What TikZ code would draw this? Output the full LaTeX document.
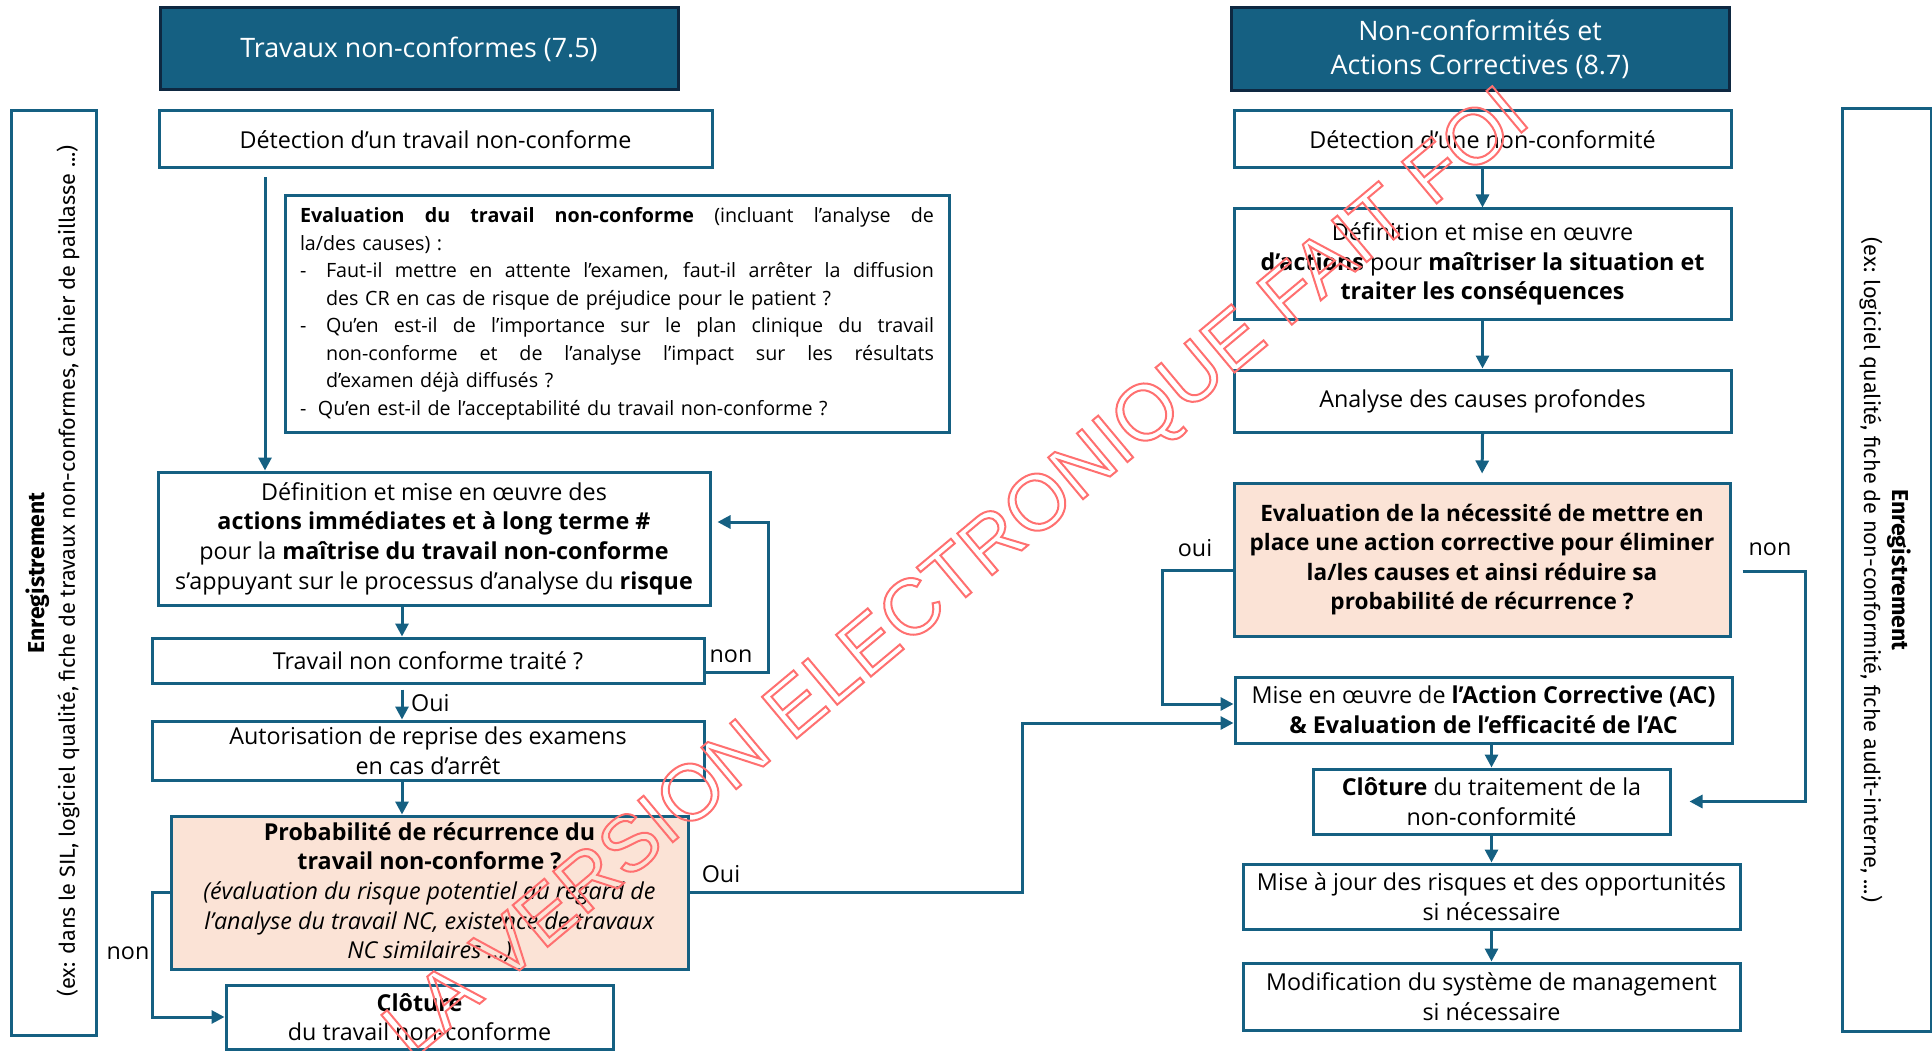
\documentclass[tikz,border=0pt]{standalone}
\usepackage{fontspec}
\setmainfont{Open Sans}
\newfontfamily\sidefont{Fira Sans}
\newfontfamily\wmfont{Liberation Sans}
\usetikzlibrary{arrows.meta}
\definecolor{acc}{HTML}{156082}
\definecolor{hdrline}{HTML}{0E2841}
\definecolor{peach}{HTML}{FBE3D6}
\definecolor{wmred}{HTML}{FF7070}
\newcommand\bodyfont{\fontsize{23.3}{29.6}\selectfont}
\newcommand\boldbody{\bfseries\fontsize{22.6}{29.6}\selectfont}
\newcommand\evalfont{\fontsize{19.7}{27.5}\selectfont}
\newcommand\hdrfont{\fontsize{26.8}{34.5}\selectfont}
\newcommand\sidesize{\sidefont\fontsize{21.7}{26}\selectfont}
\newcommand\sidebold{\sidefont\bfseries\fontsize{23}{26}\selectfont}
% a line of text spread to a given width (even interword gaps)
\newcommand\spreadline[2]{\makebox[#1][s]{\spaceskip=0.25em plus 1fil\relax #2}}
\begin{document}
\begin{tikzpicture}[x=1pt, y=-1pt,
  sz/.style 2 args={minimum width=#1pt, minimum height=#2pt},
  box/.style={draw=acc, line width=3pt, fill=white, inner sep=0pt, align=center, font=\bodyfont},
  hdr/.style={draw=hdrline, fill=acc, line width=3pt, text=white, align=center, inner sep=0pt, font=\hdrfont},
  arr/.style={draw=acc, line width=3pt, -{Triangle[length=13pt,width=13pt]}},
  lbl/.style={font=\bodyfont, inner sep=0pt},
  sidetxt/.style={font=\sidesize, inner sep=0pt}]
\useasboundingbox (0,0) rectangle (1932,1051);

% ---------- Travaux non-conformes (7.5) ----------
\node[hdr, sz={518}{82}] (h1) at (419,49) {Travaux non-conformes (7.5)};
\node[box, sz={553}{57}] (det1) at (435.5,139.5) {Détection d’un travail non-conforme};
\node[box, sz={664}{236}, align=left, text width=634pt, font=\evalfont] (eval1) at (617,314) {%
\spreadline{634pt}{\textbf{Evaluation du travail non-conforme} (incluant l’analyse de}\\
la/des causes) :\\
\makebox[26pt][l]{-}\spreadline{608pt}{Faut-il mettre en attente l’examen, faut-il arrêter la diffusion}\\
\hspace*{26pt}des CR en cas de risque de préjudice pour le patient ?\\
\makebox[26pt][l]{-}\spreadline{608pt}{Qu’en est-il de l’importance sur le plan clinique du travail}\\
\hspace*{26pt}\spreadline{608pt}{non-conforme et de l’analyse l’impact sur les résultats}\\
\hspace*{26pt}d’examen déjà diffusés ?\\
\makebox[18pt][l]{-}Qu’en est-il de l’acceptabilité du travail non-conforme ?};
\node[box, sz={552}{133}] (def1) at (434,538.5) {Définition et mise en œuvre des\\
\textbf{actions immédiates et à long terme \#}\\
pour la \textbf{maîtrise du travail non-conforme}\\
s’appuyant sur le processus d’analyse du \textbf{risque}};
\node[box, sz={552}{45}] (traite) at (428,660.5) {Travail non conforme traité ?};
\node[box, sz={552}{59}] (autor) at (428,750.5) {Autorisation de reprise des examens\\en cas d’arrêt};
\node[box, fill=peach, sz={517}{153}] (prob) at (429.5,892.5) {\textbf{Probabilité de récurrence du}\\
\textbf{travail non-conforme ?}\\
\textit{(évaluation du risque potentiel au regard de}\\
\textit{l’analyse du travail NC, existence de travaux}\\
\textit{NC similaires …)}};
\node[box, sz={387}{64}] (clot1) at (419.5,1017) {\textbf{Clôture}\\du travail non-conforme};

% ---------- Non-conformités et Actions Correctives (8.7) ----------
\node[hdr, sz={498}{83}] (h2) at (1480,49.5) {Non-conformités et\\Actions Correctives (8.7)};
\node[box, sz={497}{57}] (det2) at (1482.5,139.5) {Détection d’une non-conformité};
\node[box, sz={497}{110}] (def2) at (1482.5,264) {Définition et mise en œuvre\\
\textbf{d’actions} pour \textbf{maîtriser la situation et}\\
\textbf{traiter les conséquences}};
\node[box, sz={497}{62}] (anal) at (1482.5,401) {Analyse des causes profondes};
\node[box, fill=peach, sz={496}{153}, font=\boldbody] (eval2) at (1482,559.5) {Evaluation de la nécessité de mettre en\\
place une action corrective pour éliminer\\
la/les causes et ainsi réduire sa\\
probabilité de récurrence ?};
\node[box, sz={497}{66}] (ac) at (1483.5,710) {Mise en œuvre de \textbf{l’Action Corrective (AC)}\\
\textbf{\& Evaluation de l’efficacité de l’AC}};
\node[box, sz={357}{65}] (clot2) at (1491.5,801.5) {\textbf{Clôture} du traitement de la\\non-conformité};
\node[box, sz={497}{65}] (maj) at (1491.5,896.5) {Mise à jour des risques et des opportunités\\si nécessaire};
\node[box, sz={497}{67}] (modif) at (1491.5,996.5) {Modification du système de management\\si nécessaire};

% ---------- Enregistrement (side panels) ----------
\node[box, sz={85}{924}] (lrec) at (53.5,573) {};
\node[sidetxt, rotate=90, font=\sidebold] (lrec1) at (38,573) {Enregistrement};
\node[sidetxt, rotate=90] (lrec2) at (68,571) {(ex: dans le SIL, logiciel qualité, fiche de travaux non-conformes, cahier de paillasse ...)};
\node[box, sz={89}{922}] (rrec) at (1886.5,570) {};
\node[sidetxt, rotate=-90, font=\sidebold] (rrec1) at (1899,570) {Enregistrement};
\node[sidetxt, rotate=-90] (rrec2) at (1871,570) {(ex: logiciel qualité, fiche de non-conformité, fiche audit-interne, ...)};

% ---------- connectors, left column ----------
\coordinate (xl) at (265,0);
\coordinate (xm) at (402,0);
\draw[arr, shorten <=8pt] (det1.south -| xl) -- (def1.north -| xl);
\draw[arr] (def1.south -| xm) -- (traite.north -| xm);
\draw[arr, shorten <=5pt] (traite.south -| xm) -- (autor.north -| xm);
\draw[arr] (autor.south -| xm) -- (prob.north -| xm);
\draw[arr, shorten >=6pt] ([yshift=-11.5pt]traite.east) -- ++(63,0) |- ([yshift=16.5pt]def1.east);
\draw[arr] (prob.west) -- ++(-17,0) |- (clot1.west);
\draw[arr] (prob.east) -- ++(333,0) |- ([yshift=-13pt]ac.west);
\node[lbl] (lnon1) at (731,656) {non};
\node[lbl, anchor=west] (loui1) at (411,703) {Oui};
\node[lbl] (lnon2) at (128,953) {non};
\node[lbl] (loui2) at (721,874) {Oui};

% ---------- connectors, right column ----------
\draw[arr] (det2.south) -- (def2.north);
\draw[arr] (def2.south) -- (anal.north);
\draw[arr, shorten >=8pt] (anal.south) -- (eval2.north);
\draw[arr] (eval2.west |- 0,570) -- ++(-70,0) |- ([yshift=6pt]ac.west);
\draw[arr, shorten >=18pt] ([xshift=11pt,yshift=-11.5pt]eval2.east) -- ++(63,0) |- (clot2.east);
\draw[arr] (ac.south -| clot2.north) -- (clot2.north);
\draw[arr] (clot2.south) -- (maj.north);
\draw[arr] (maj.south) -- (modif.north);
\node[lbl] (loui3) at (1195,548) {oui};
\node[lbl] (lnon3) at (1770,549) {non};

% ---------- outlined diagonal stamp ----------
\node[rotate=39.9, anchor=base, inner sep=0pt, text=wmred, font=\wmfont\fontsize{79}{79}\selectfont] (stamp) at (972,592)
  {\special{pdf:literal direct 1 Tr 2 w}LA VERSION ELECTRONIQUE FAIT FOI\special{pdf:literal direct 0 Tr}};
\end{tikzpicture}
\end{document}
